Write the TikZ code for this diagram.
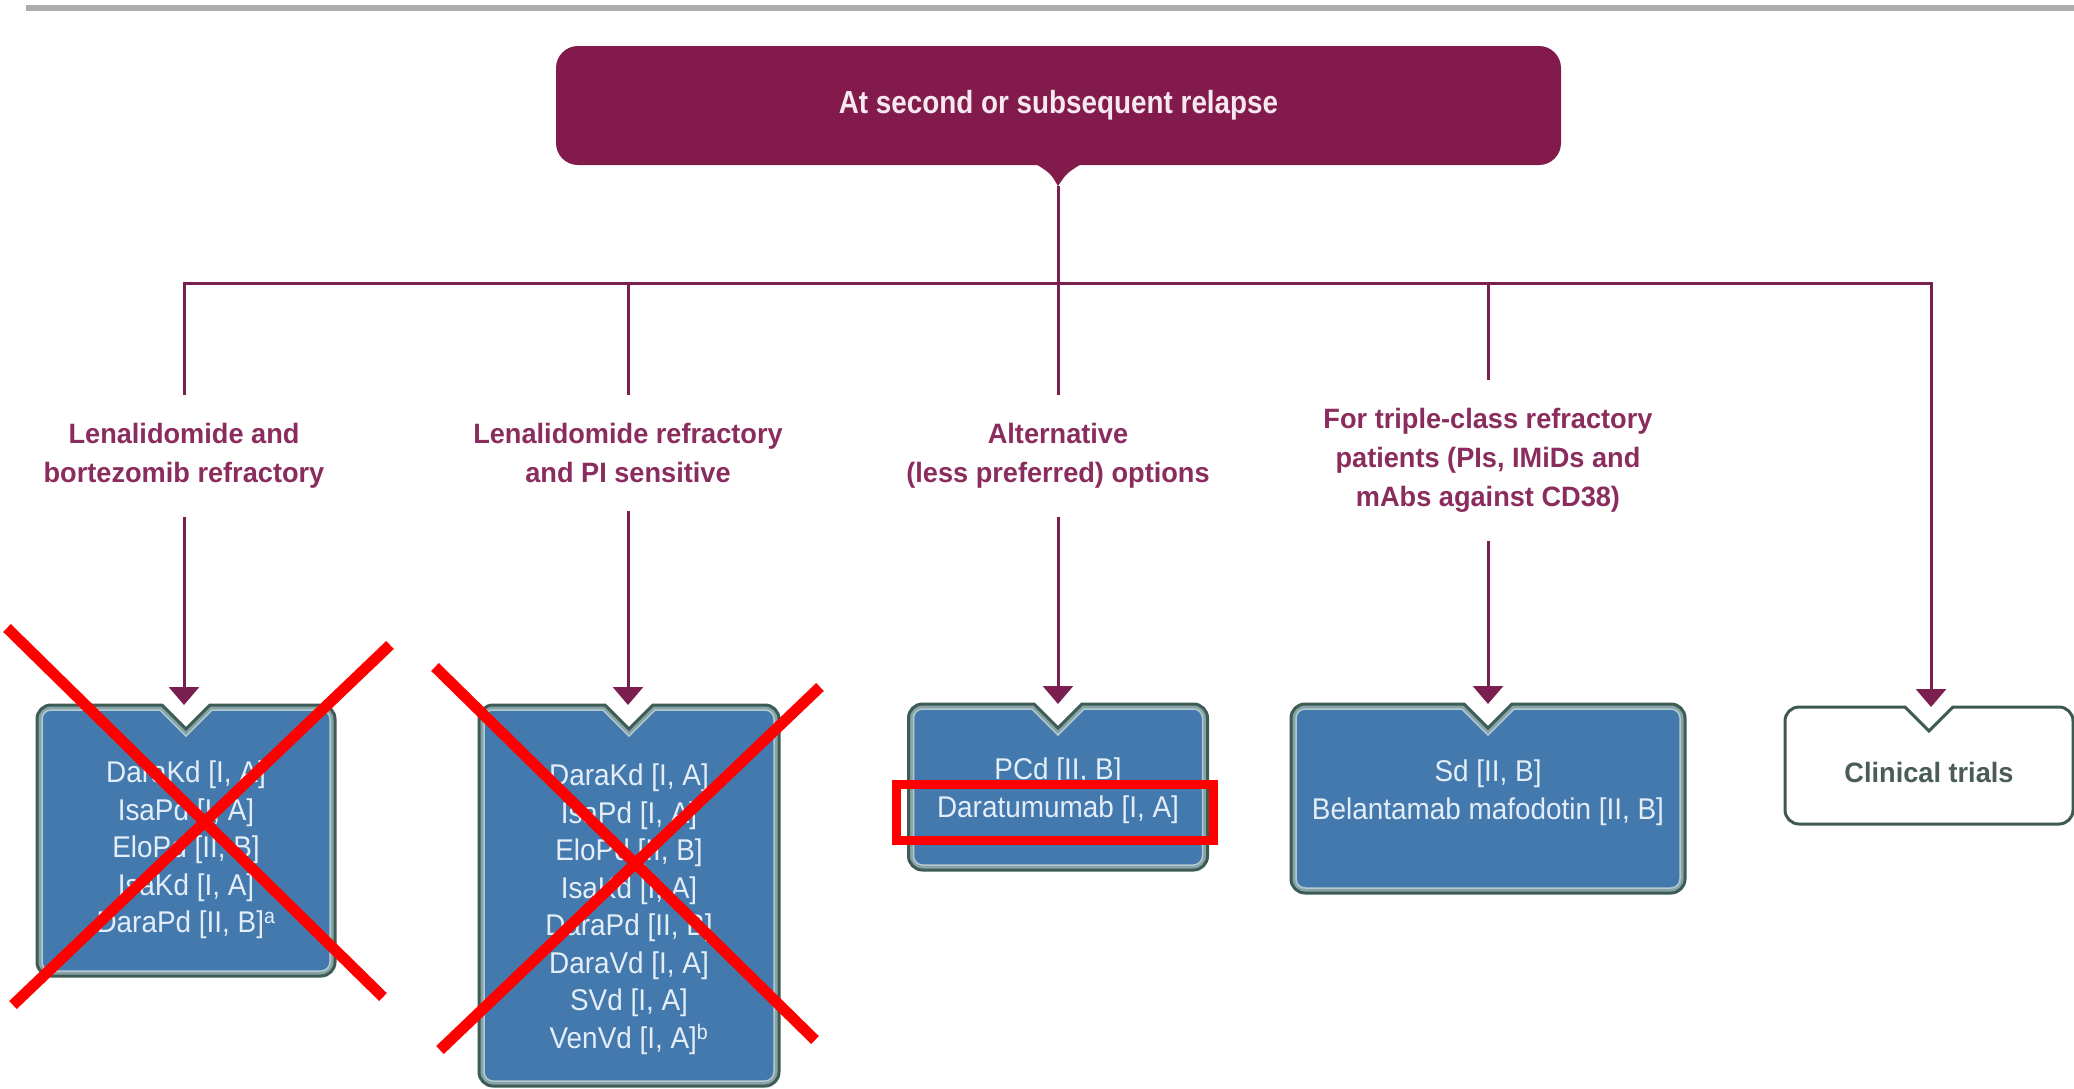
\documentclass[tikz,border=0pt]{standalone}
\usepackage{fontspec}
\setmainfont{Liberation Sans}
\newfontfamily\boxfont{Liberation Sans}[FakeStretch=0.93]
\newfontfamily\labfont{Liberation Sans}[FakeStretch=0.97]
\newfontfamily\titlefont{Liberation Sans}[FakeStretch=0.87]
\usetikzlibrary{arrows.meta,calc}
\definecolor{plum}{HTML}{821A4C}
\definecolor{plumline}{HTML}{7A1F4F}
\definecolor{plumtext}{HTML}{8A2D5E}
\definecolor{boxblue}{HTML}{4479AE}
\definecolor{boxedge}{HTML}{3C5C55}
\definecolor{boxband}{HTML}{88A3A6}
\definecolor{boxinner}{HTML}{B3CAD0}
\definecolor{boxtext}{HTML}{E4EEF8}
\definecolor{ctedge}{HTML}{3E5A4F}
\definecolor{cttext}{HTML}{4A5D55}
\definecolor{titletext}{HTML}{F5E8EF}
\newcommand\nshape[3]{%
 \path[#3]
  ($(#1.north)+(-24pt-0.414*#2pt,-#2pt)$)
  -- ($(#1.north west)+(14pt,-#2pt)$)
  arc[start angle=90,end angle=180,radius=14pt-#2pt]
  -- ($(#1.south west)+(#2pt,14pt)$)
  arc[start angle=180,end angle=270,radius=14pt-#2pt]
  -- ($(#1.south east)+(-14pt,#2pt)$)
  arc[start angle=270,end angle=360,radius=14pt-#2pt]
  -- ($(#1.north east)+(-#2pt,-14pt)$)
  arc[start angle=0,end angle=90,radius=14pt-#2pt]
  -- ($(#1.north)+(24pt+0.414*#2pt,-#2pt)$)
  -- ($(#1.north)+(0pt,-24pt-1.414*#2pt)$)
  -- cycle;}
\tikzset{
  boxslot/.style={inner sep=0pt, outer sep=0pt},
  btext/.style={font=\boxfont\fontsize{30}{37.5}\selectfont, text=boxtext, align=center, inner sep=0pt, anchor=north},
  labtext/.style={font=\labfont\bfseries\fontsize{28}{39}\selectfont, text=plumtext, align=center, inner xsep=4pt, inner ysep=28pt, anchor=north},
  conn/.style={draw=plumline, line width=3pt},
  arr/.style={conn, -{Triangle[width=30pt,length=18pt]}},
  bluebox/.style={fill=boxband, draw=boxedge, line width=3pt},
  blueinner/.style={fill=boxblue, draw=boxinner, line width=1.5pt},
  whitebox/.style={fill=white, draw=ctedge, line width=3pt},
  redmark/.style={draw=red, line width=11pt}
}
\begin{document}
\begin{tikzpicture}[x=1pt,y=-1pt]
\fill[white] (0,0) rectangle (2074,1088);
\useasboundingbox (0,0) rectangle (2074,1088);
% top rule
\draw[gray!65, line width=6pt] (26,8) -- (2074,8);
% title
\node[fill=plum, rounded corners=22pt, minimum width=1005pt, minimum height=119pt, inner sep=0pt,
      text=titletext, font=\titlefont\bfseries\fontsize{32}{38}\selectfont] (T) at (1058.5,105.5) {At second or subsequent relapse};
\coordinate (tip) at (1058,186);
\fill[plum] ([xshift=-24pt,yshift=2pt]T.south) .. controls ([xshift=-8pt,yshift=-8pt]T.south) .. (tip)
   .. controls ([xshift=8pt,yshift=-8pt]T.south) .. ([xshift=24pt,yshift=2pt]T.south) -- cycle;
% labels
\node[labtext] (L1) at (184,395) {Lenalidomide and\\bortezomib refractory};
\node[labtext] (L2) at (628,395) {Lenalidomide refractory\\and PI sensitive};
\node[labtext] (L3) at (1058,395) {Alternative\\(less preferred) options};
\node[labtext] (L4) at (1488,380) {For triple-class refractory\\patients (PIs, IMiDs and\\mAbs against CD38)};
% box slots
\node[boxslot, minimum width=298pt, minimum height=271pt] (B1) at (186,840.5) {};
\node[boxslot, minimum width=300pt, minimum height=381pt] (B2) at (629,895.5) {};
\node[boxslot, minimum width=299pt, minimum height=166pt] (B3) at (1058,787) {};
\node[boxslot, minimum width=394pt, minimum height=189pt] (B4) at (1488,798.5) {};
\node[boxslot, minimum width=288pt, minimum height=117pt] (B5) at (1929,765.5) {};
\nshape{B1}{0}{bluebox}\nshape{B1}{5}{blueinner}
\nshape{B2}{0}{bluebox}\nshape{B2}{5}{blueinner}
\nshape{B3}{0}{bluebox}\nshape{B3}{5}{blueinner}
\nshape{B4}{0}{bluebox}\nshape{B4}{5}{blueinner}
\nshape{B5}{0}{whitebox}
% box texts
\node[btext] (X1) at (186,761) {DaraKd [I, A]\\IsaPd [I, A]\\EloPd [II, B]\\IsaKd [I, A]\\DaraPd [II, B]\textsuperscript{a}};
\node[btext] (X2) at (629,764) {DaraKd [I, A]\\IsaPd [I, A]\\EloPd [II, B]\\IsaKd [I, A]\\DaraPd [II, B]\\DaraVd [I, A]\\SVd [I, A]\\VenVd [I, A]\textsuperscript{b}};
\node[btext] (X3) at (1058,758) {PCd [II, B]\\Daratumumab [I, A]};
\node[btext] (X4) at (1488,760) {Sd [II, B]\\Belantamab mafodotin [II, B]};
\node[font=\labfont\bfseries\fontsize{28}{34}\selectfont, text=cttext, inner sep=0pt, anchor=base] (X5) at (1929,782) {Clinical trials};
% connectors
\coordinate (h1) at (184,283);
\coordinate (h2) at (628,283);
\coordinate (h4) at (1488,283);
\coordinate (h5) at (1931,283);
\draw[conn] (tip) -- (L3.north);
\draw[arr] (L1.north) -- (h1) -- (h5) -- (h5 |- B5.north);
\draw[conn] (h2) -- (L2.north);
\draw[conn] (h4) -- (L4.north);
\draw[arr] (L1.south) -- (L1.south |- B1.north);
\draw[arr] (L2.south) -- (L2.south |- B2.north);
\draw[arr] (L3.south) -- (L3.south |- B3.north);
\draw[arr] (L4.south) -- (L4.south |- B4.north);
% red annotations
\draw[redmark] (7,628) -- (383,997);
\draw[redmark] (390,645) -- (13,1005);
\draw[redmark] (435,667) -- (815,1040);
\draw[redmark] (820,687) -- (440,1050);
\draw[draw=red, line width=9pt] (896.5,784.5) rectangle (1213.5,840.5);
\end{tikzpicture}
\end{document}
